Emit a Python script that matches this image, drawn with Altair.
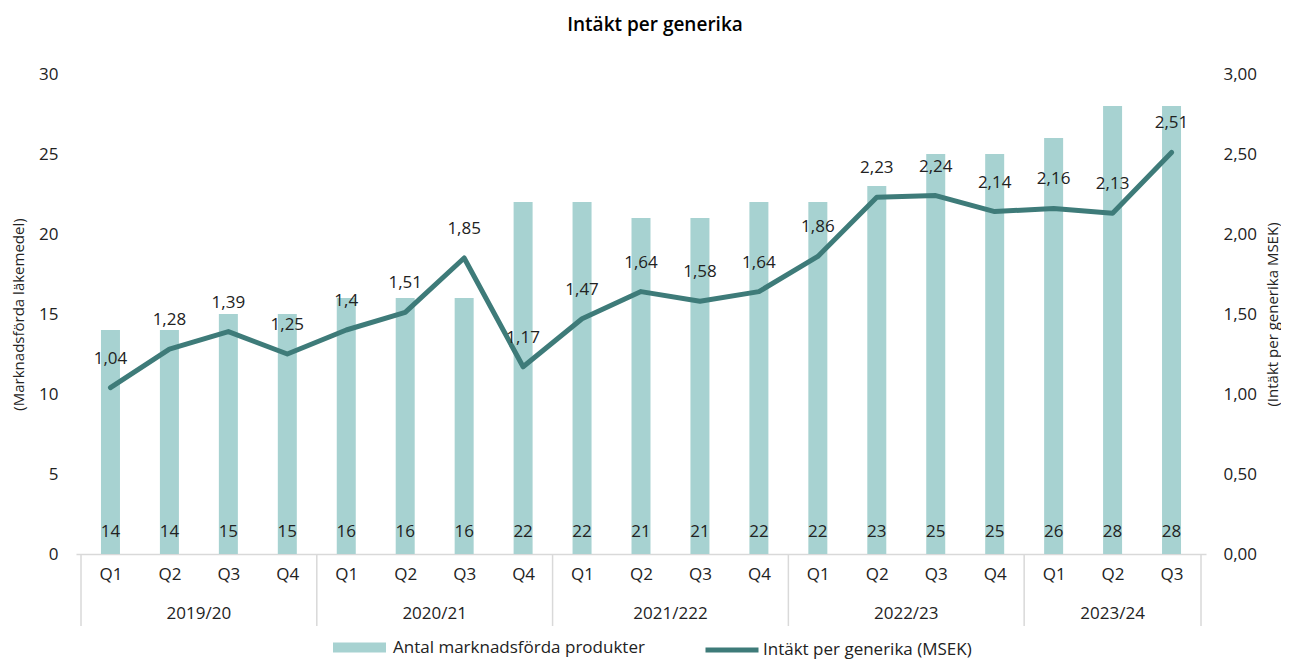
import json
import altair as alt
import pandas as pd

# ---- data ----
quarters = ["Q1", "Q2", "Q3", "Q4"] * 4 + ["Q1", "Q2", "Q3"]
years = (["2019/20"] * 4 + ["2020/21"] * 4 + ["2021/222"] * 4
         + ["2022/23"] * 4 + ["2023/24"] * 3)
products = [14, 14, 15, 15, 16, 16, 16, 22, 22, 21, 21, 22, 22, 23, 25, 25, 26, 28, 28]
revenue = [1.04, 1.28, 1.39, 1.25, 1.4, 1.51, 1.85, 1.17, 1.47, 1.64, 1.58, 1.64,
           1.86, 2.23, 2.24, 2.14, 2.16, 2.13, 2.51]
bar_name = "Antal marknadsförda produkter"
line_name = "Intäkt per generika (MSEK)"

BAR = "#A7D2D1"
LINE = "#3E7B79"
TXT = "#222222"
GRID = "#D9D9D9"
FONT = "Open Sans"
FS = 17

W, H = 1130, 480

df = pd.DataFrame({
    "idx": list(range(len(quarters))),
    "quarter": quarters,
    "year": years,
    "products": products,
    "revenue": revenue,
})
df["rev_label"] = [str(v).replace(".", ",") for v in revenue]
df["s1"] = bar_name
df["s2"] = line_name

ydf = df.groupby("year", sort=False)["idx"].agg(["min", "max"]).reset_index()
ydf["center"] = (ydf["min"] + ydf["max"]) / 2
bounds = sorted(set(list(ydf["min"] - 0.5) + list(ydf["max"] + 0.5)))
sep_df = pd.DataFrame({"b": bounds})

xscale = alt.Scale(domain=[-0.5, len(quarters) - 0.5], nice=False, zero=False)
label_expr = json.dumps(quarters) + "[datum.value]"

x_main = alt.X("idx:Q", scale=xscale, title=None,
               axis=alt.Axis(values=list(range(len(quarters))), labelExpr=label_expr,
                             ticks=False, grid=False, domainColor=GRID, domainWidth=1.5,
                             labelPadding=12, labelFontSize=FS, labelColor=TXT,
                             labelFont=FONT, title=None))

y_left = alt.Y("products:Q", scale=alt.Scale(domain=[0, 30], nice=False),
               axis=alt.Axis(values=[0, 5, 10, 15, 20, 25, 30], title="(Marknadsförda läkemedel)",
                             grid=False, domain=False, ticks=False, labelPadding=18,
                             labelFontSize=FS, labelColor=TXT, titleFontSize=15,
                             titleColor=TXT, titleFontWeight="normal", titlePadding=12,
                             labelFont=FONT, titleFont=FONT))

y_right = alt.Y("revenue:Q", scale=alt.Scale(domain=[0, 3], nice=False),
                axis=alt.Axis(orient="right", values=[0, 0.5, 1, 1.5, 2, 2.5, 3],
                              labelExpr="replace(format(datum.value, '.2f'), '.', ',')",
                              title="(Intäkt per generika MSEK)", titleAngle=-90,
                              titleBaseline="top",
                              grid=False, domain=False, ticks=False, labelPadding=17,
                              labelFontSize=FS, labelColor=TXT, titleFontSize=15,
                              titleColor=TXT, titleFontWeight="normal", titlePadding=9,
                              labelFont=FONT, titleFont=FONT))

base = alt.Chart(df)

bars = base.mark_bar(width=19).encode(
    x=x_main,
    y=y_left,
    color=alt.Color("s1:N", scale=alt.Scale(domain=[bar_name], range=[BAR]),
                    legend=alt.Legend(title=None, orient="none", legendX=257, legendY=547,
                                      symbolType="M-1,-0.19H1V0.19H-1Z", symbolSize=2809,
                                      symbolStrokeWidth=0, labelFontSize=FS, labelColor=TXT,
                                      labelFont=FONT, labelOffset=7, labelLimit=0)),
)

bar_text = base.mark_text(fontSize=FS, color=TXT, font=FONT, baseline="middle").encode(
    x=alt.X("idx:Q", title=None),
    y=alt.value(H - 22),
    text="products:Q",
)

seps = alt.Chart(sep_df).mark_rule(color=GRID, strokeWidth=1.5).encode(
    x=alt.X("b:Q", title=None),
    y=alt.value(H),
    y2=alt.value(H + 72),
)

year_text = alt.Chart(ydf).mark_text(fontSize=FS, color=TXT, font=FONT, baseline="middle").encode(
    x=alt.X("center:Q", title=None),
    y=alt.value(H + 60),
    text="year:N",
)

line = base.mark_line(strokeWidth=5, strokeCap="round", strokeJoin="round").encode(
    x=alt.X("idx:Q", title=None),
    y=y_right,
    stroke=alt.Stroke("s2:N", scale=alt.Scale(domain=[line_name], range=[LINE]),
                      legend=alt.Legend(title=None, orient="none", legendX=627, legendY=547,
                                        symbolType="stroke", symbolSize=2809,
                                        symbolStrokeWidth=5, labelFontSize=FS,
                                        labelColor=TXT, labelFont=FONT, labelOffset=2,
                                        labelLimit=0)),
)

line_text = base.mark_text(fontSize=FS, color=TXT, font=FONT, baseline="middle", dy=-29).encode(
    x=alt.X("idx:Q", title=None),
    y=alt.Y("revenue:Q"),
    text="rev_label:N",
)

left = alt.layer(bars, bar_text, seps, year_text)
right = alt.layer(line, line_text)

chart = alt.layer(left, right).resolve_scale(y="independent").properties(
    width=W, height=H,
    padding={"left": 3, "top": 8, "right": 0, "bottom": 0},
    title=alt.Title("Intäkt per generika", fontSize=19, fontWeight=600, font=FONT,
                    color="#000000", offset=30, anchor="middle", dx=14),
).configure_view(stroke=None)

chart.save("out.html", embed_options={"renderer": "svg", "actions": False})
